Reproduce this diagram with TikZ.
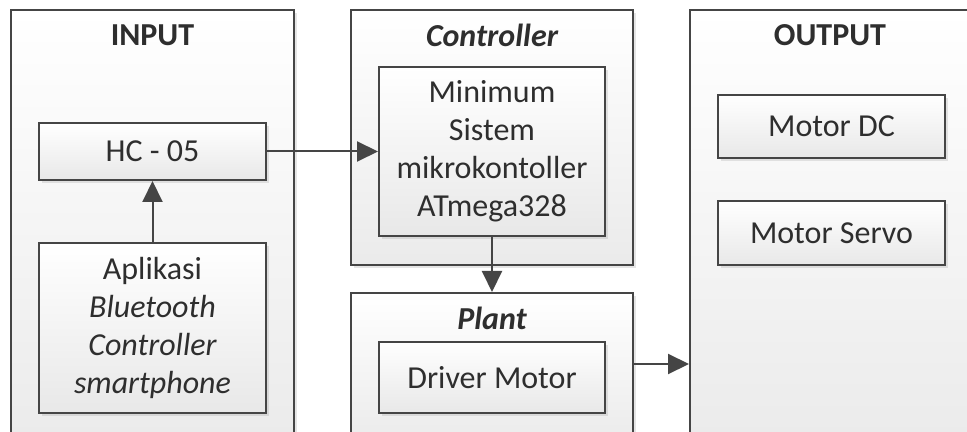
\documentclass[tikz,border=0pt]{standalone}
\usepackage{fontspec}
\setmainfont{Carlito}
\usetikzlibrary{arrows.meta,shadows}
\definecolor{edge}{HTML}{454545}
\definecolor{ink}{HTML}{2E2E2E}
\def\txt{\fontsize{16}{19}\selectfont}
\tikzset{
	softshadow/.style={drop shadow={shadow xshift=1.6pt, shadow yshift=-1.6pt, opacity=0.22, fill=black!45}},
	group/.style={draw=edge, line width=1pt, inner sep=0pt, top color=white, bottom color=black!8, softshadow},
	block/.style={draw=edge, line width=1pt, inner sep=0pt, top color=white, bottom color=black!9, align=center, text=ink, font=\txt, softshadow},
	title/.style={text=ink, font=\txt\bfseries},
	link/.style={draw=edge, line width=1pt, -{Triangle[length=10.5pt,width=10pt]}}
}

\begin{document}
\begin{tikzpicture}[x=0.5pt, y=-0.5pt]
		%%%%% START %%%%%
		\path[use as bounding box] (0, 0) rectangle (967, 432);
		\clip (0, 0) rectangle (967, 432);
		\fill[white] (0, 0) rectangle (967, 432);
		
		% the four groups (bottom edges run off the page)
		\node[group, minimum width=141.5pt, minimum height=218pt] (input) at (152.5, 228) {};
		\node[group, minimum width=141pt, minimum height=127.5pt] (ctrl) at (492, 137.5) {};
		\node[group, minimum width=141pt, minimum height=76.5pt] (plant) at (492, 369.5) {};
		\node[group, minimum width=155pt, minimum height=218pt] (output) at (845, 228) {};
		
		\node[title] (inputTitle) at (152.5, 35) {INPUT};
		\node[title] (ctrlTitle) at (492, 35) {\itshape Controller};
		\node[title] (plantTitle) at (492, 318) {\itshape Plant};
		\node[title] (outputTitle) at (830, 35) {OUTPUT};
		
		% blocks inside the groups
		\node[block, minimum width=113.5pt, minimum height=28.5pt] (hc) at (152.5, 151.5) {HC - 05};
		\node[block, minimum width=113.5pt, minimum height=85pt] (app) at (152.5, 328)
			{Aplikasi\\\itshape Bluetooth\\\itshape Controller\\\itshape smartphone};
		\node[block, minimum width=113pt, minimum height=84.5pt] (mcu) at (492, 151.5)
			{Minimum\\Sistem\\mikrokontoller\\ATmega328};
		\node[block, minimum width=113pt, minimum height=35.5pt] (driver) at (492, 377.5) {Driver Motor};
		\node[block, minimum width=113.5pt, minimum height=31.5pt] (dc) at (831.5, 126.5) {Motor DC};
		\node[block, minimum width=113.5pt, minimum height=32pt] (servo) at (831.5, 233) {Motor Servo};
		
		% signal flow
		\draw[link] (app.north) -- (hc.south);
		\draw[link] (hc.east) -- (mcu.west);
		\draw[link] (mcu.south) -- (plant.north);
		\coordinate (tap) at (plant.east |- 0, 364);
		\draw[link] (tap) -- (tap -| output.west);
		
		%%%%% END %%%%%
	\end{tikzpicture}
\end{document}
